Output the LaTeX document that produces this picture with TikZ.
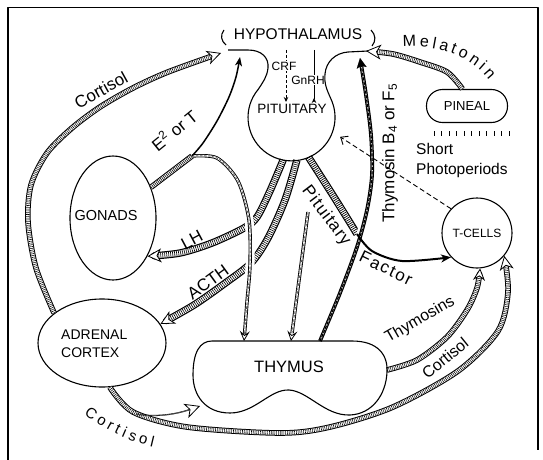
\documentclass[tikz,border=0pt]{standalone}
\usepackage{fontspec}
\setmainfont{Liberation Sans}
\usetikzlibrary{arrows.meta,decorations.text,shapes.geometric}
\newcommand{\fs}[1]{\fontsize{#1}{#1}\selectfont}
\begin{document}
\begin{tikzpicture}[x=1pt, y=-1pt, line join=round,
  outl/.style={line width=1.1pt},
  bandW/.style={draw=white, line width=5pt,
    preaction={draw=black, line width=7.4pt},
    postaction={draw=black, line width=5pt, dash pattern=on 0.7pt off 1.3pt}},
  bandN/.style={draw=white, line width=3.6pt,
    preaction={draw=black, line width=5.6pt},
    postaction={draw=black, line width=3.6pt, dash pattern=on 0.6pt off 1.2pt}},
  dline/.style={draw=white, line width=1.6pt,
    preaction={draw=black, line width=3.4pt},
    postaction={draw=black, line width=0.6pt, dash pattern=on 2.5pt off 1.5pt}},
  fline/.style={draw=white, line width=1.2pt,
    preaction={draw=black, line width=3.8pt},
    postaction={draw=black, line width=1.2pt, dash pattern=on 3pt off 1.5pt}},
  halo/.style={preaction={draw=white, line width=9pt, shorten <=14pt, shorten >=16pt}},
  htip/.style={postaction={draw=white, line width=0.1pt, shorten >=0pt, shorten <=0pt,
    -{Stealth[color=black, fill=white, length=#1, width=#1, inset=4pt, line width=0.8pt]}}},
  htip/.default=12pt,
  btip/.style={postaction={draw=black, line width=0.1pt, shorten >=0pt, shorten <=0pt,
    -{Stealth[length=#1, width=#1, inset=2pt]}}},
  btip/.default=9pt,
  lab/.style={font=\fs{17}, inner sep=0pt},
]
\useasboundingbox (0,0) rectangle (543,460);

% frame
\draw[line width=1.4pt] (8,460) -- (8,7.5) -- (538,7.5) -- (538,450);

% nodes
\node[font=\fs{15.5}, inner sep=0pt] (hyp) at (298,34) {HYPOTHALAMUS};
\node[circle, minimum size=87pt, inner sep=0pt] (pit) at (291.5,117) {};
\node[ellipse, draw, outl, minimum width=86pt, minimum height=124pt, inner sep=0pt] (gon) at (113,218) {};
\node[font=\fs{14.5}, inner sep=0pt] (gontxt) at (106,216) {GONADS};
\node[ellipse, draw, outl, minimum width=128pt, minimum height=88pt, inner sep=0pt] (adr) at (102,343) {};
\node[font=\fontsize{14}{18}\selectfont, align=left, anchor=west, inner sep=0pt] (adrtxt) at (61,344) {ADRENAL\\CORTEX};
\node[circle, draw, outl, minimum size=70pt, inner sep=0pt, font=\fs{12}] (tc) at (477,233) {T-CELLS};
\node[draw, outl, rounded corners=16pt, minimum width=81pt, minimum height=33pt, inner sep=0pt, font=\fs{13}] (pin) at (467,106) {PINEAL};
\node[font=\fs{16.5}, inner sep=0pt] (thy) at (289,367) {THYMUS};

% named free ends
\coordinate (hL1) at (221,53);
\coordinate (hL2) at (240,57);
\coordinate (hR1) at (360,58);
\coordinate (hR2) at (366,51);
\coordinate (split) at (192,156);
\coordinate (fc) at (357,234);
\coordinate (dtop) at (308,212);
\coordinate (thyE) at (244,341);
\coordinate (thyD) at (291,341);
\coordinate (thyF) at (320,341);
\coordinate (thyR) at (387,370);
\coordinate (thyB) at (200,406);
\coordinate (br) at (136,414);
\coordinate (crftop) at (286,50);
\coordinate (crfbot) at (286,102);
\coordinate (gnrtop) at (314,50);
\coordinate (gnrbot) at (314,103);

% pituitary to gonads / adrenal / factor bands
\draw[bandW, shorten >=9pt, htip=14pt] plot[smooth] coordinates {(pit.-101) (270,191) (257,217) (244,228) (212,243) (180,253) (gon.-48)};
\draw[bandW, shorten >=9pt, htip=14pt] plot[smooth] coordinates {(pit.-83) (285,200) (268,238) (251,263) (224,284) (194,305) (adr.18)};
\draw[bandW] plot[smooth] coordinates {(pit.-67) (334,197) (fc)};

% crossing lines with halos
\draw[halo, dline, shorten >=8pt, htip=10pt] plot[smooth] coordinates {(split) (217,158) (238,181) (249,220) (250,265) (247,302) (thyE)};
\draw[halo, fline, shorten >=7pt, btip=10pt] plot[smooth] coordinates {(thyF) (340,293) (357,247) (367,210) (372,175) (371,135) (366,95) (hR1)};

% other connectors
\draw[line width=2pt, -{Stealth[length=10pt, width=8pt, inset=3pt]}] plot[smooth] coordinates {(fc) (372,251) (402,261) (tc.223)};
\draw[bandN] (gon.39) -- (split);
\draw[line width=1.5pt, -{Stealth[length=9pt, width=7pt, inset=2.5pt]}] plot[smooth] coordinates {(split) (203,143) (217,121) (229,97) (236,77) (hL2)};
\draw[dline, shorten >=8pt, htip=10pt] (dtop) -- (thyD);
\draw[bandN, shorten >=8pt, htip=12pt] plot[smooth] coordinates {(thyR) (417,360) (447,337) (467,310) (477,288) (tc.-85)};
\draw[bandN, shorten >=9pt, htip=15pt] plot[smooth] coordinates {(pin.105) (447,72) (420,62) (393,54) (hR2)};
\draw[bandN, shorten >=8pt, htip=14pt] plot[smooth] coordinates {(adr.148) (36,268) (28,222) (31,185) (47,153) (72,128) (100,107) (133,88) (168,72) (hL1)};
\draw[bandN, shorten >=8pt, htip=14pt] plot[smooth] coordinates {(adr.-80) (133,412) (187,427) (280,433) (330,427) (393,407) (458,371) (498,331) (508,292) (tc.-40)};
\draw[line width=1.2pt, shorten >=9pt, htip=15pt] (br) .. controls (160,418) and (180,413) .. (thyB);
\draw[line width=0.9pt, dash pattern=on 5pt off 3pt, shorten >=9pt, -{Straight Barb[length=6pt, width=10pt]}] (tc.137) -- (pit.-20);
\draw[line width=0.9pt, dash pattern=on 3pt off 2pt, -{Stealth[length=5pt, width=4.5pt]}] (crftop) -- (crfbot);
\draw[line width=0.9pt, -{Stealth[length=5pt, width=4.5pt, reversed]}] (gnrtop) -- (gnrbot);

% pineal ticks
\foreach \i in {0,...,10} \draw[line width=1pt] ({434+7.5*\i},131) -- ++(0,5);

% labels
\node[fill=white, inner sep=0.5pt, font=\fs{12}] (lcrf) at (284,66) {CRF};
\node[fill=white, inner sep=0.5pt, font=\fs{12}] (lgnrh) at (308,80) {GnRH};
\node[font=\fs{13.5}, inner sep=0pt] (pittxt) at (292,109) {PITUITARY};
\node[lab, rotate=29] (lcort1) at (101,90) {Cortisol};
\node[lab, rotate=39] (le2) at (174,130) {E\textsuperscript{2} or T};
\node[lab, rotate=28] (llh) at (192,240) {LH};
\node[lab, rotate=36] (lacth) at (208,282) {ACTH};
\node[lab, rotate=-53] (lpit) at (326,216) {\addfontfeature{LetterSpace=6}Pituitary};
\node[lab, rotate=-26] (lfac) at (386,268) {\addfontfeature{LetterSpace=10}Factor};
\node[lab, rotate=90] (lthyb) at (390,153) {Thymosin B\textsubscript{4} or F\textsubscript{5}};
\node[lab, font=\fs{16}, rotate=30] (lthys) at (420,320) {Thymosins};
\node[lab, font=\fs{16}, rotate=39] (lcort2) at (445,358) {Cortisol};
\node[font=\fontsize{15.5}{20}\selectfont, align=left, anchor=west, inner sep=0pt] (lshort) at (416,160) {Short\\Photoperiods};
\path[decorate, decoration={text along path, text={|\fs{16}|Melatonin}, text align={fit to path}}] (403,47) .. controls (440,44) and (472,58) .. (489,80);
\path[decorate, decoration={text along path, text={|\fs{15}|Cortisol}, text align={fit to path}}] (84,414) .. controls (105,430) and (127,441) .. (153,447);

% hypothalamus / pituitary outline
\draw[outl] (224,30) .. controls (220,35) and (221,41) .. (226,45);
\draw[outl] (371,30) .. controls (376,35) and (376,41) .. (372,46);
\draw[outl] (228,50) -- (248,50) .. controls (262,50) and (269,58) .. (268,68)
  .. controls (267,77) and (263,82) .. (258.2,89.4)
  arc[start angle=-140, end angle=-385, radius=43.5]
  .. controls (327,90) and (324,84) .. (325,74)
  .. controls (326,62) and (335,53) .. (348,52) -- (368,51);

% thymus outline
\draw[outl] (212,341) -- (352,341) .. controls (378,341) and (388,355) .. (387,372)
  .. controls (386,395) and (372,414) .. (350,415)
  .. controls (325,416) and (308,391) .. (289,390)
  .. controls (270,389) and (255,413) .. (230,413)
  .. controls (205,413) and (193,395) .. (193,375)
  .. controls (193,352) and (200,341) .. (212,341) -- cycle;
\end{tikzpicture}
\end{document}
